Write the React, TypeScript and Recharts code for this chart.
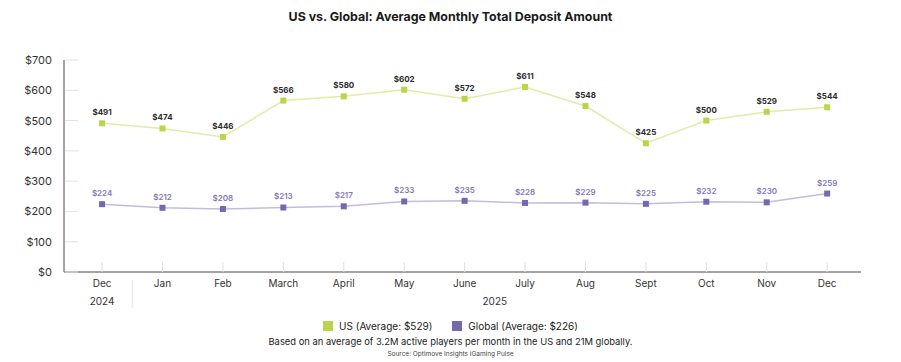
import React from 'react';
import { LineChart, Line, XAxis, YAxis, LabelList } from 'recharts';

const months = ['Dec', 'Jan', 'Feb', 'March', 'April', 'May', 'June', 'July', 'Aug', 'Sept', 'Oct', 'Nov', 'Dec'];
const usValues = [491, 474, 446, 566, 580, 602, 572, 611, 548, 425, 500, 529, 544];
const globalValues = [224, 212, 208, 213, 217, 233, 235, 228, 229, 225, 232, 230, 259];
const yTicks = [0, 100, 200, 300, 400, 500, 600, 700];
// year groups: label sits at the centre of its months, separator between groups
const yearLabels = [
  { label: '2024', at: 0 },
  { label: '2025', at: 6.5 },
];
const yearSeparators = [0.5];

const FONT = 'Inter, "Open Sans", sans-serif';
const US_LINE = '#e2eca6';
const US_MARK = '#bad44c';
const GL_LINE = '#c3bcdf';
const GL_MARK = '#7668ae';

const data = months.map((m, i) => ({ i, month: m, us: usValues[i], global: globalValues[i] }));

const SquareDot = (color: string) => (props: any) => {
  const { cx, cy, index } = props;
  if (cx == null || cy == null) return null;
  return <rect key={`d-${index}`} x={cx - 3} y={cy - 3} width={6} height={6} fill={color} />;
};

const YTick = (props: any) => {
  const { y, payload } = props;
  return (
    <g>
      <line x1={65} x2={78} y1={y} y2={y} stroke="#e2e2e2" strokeWidth={1} />
      <text x={52} y={y} dy={4} textAnchor="end" fontSize={11} fill="#333" fontFamily={FONT}>
        {`$${payload.value}`}
      </text>
    </g>
  );
};

const MonthTick = (props: any) => {
  const { x, y, payload } = props;
  return (
    <g>
      <line x1={x} x2={x} y1={y - 10} y2={y} stroke="#e0e0e0" strokeWidth={1} />
      <text x={x} y={y} dy={15} textAnchor="middle" fontSize={10} fill="#333" fontFamily={FONT}>
        {months[payload.value]}
      </text>
    </g>
  );
};

const YearTick = (props: any) => {
  const { x, y, payload } = props;
  if (yearSeparators.includes(payload.value)) {
    return <line x1={x} x2={x} y1={y - 12} y2={y + 16} stroke="#e6e6e6" strokeWidth={1} />;
  }
  const yl = yearLabels.find((g) => g.at === payload.value);
  return (
    <text x={x} y={y} dy={13} textAnchor="middle" fontSize={10} fill="#333" fontFamily={FONT}>
      {yl ? yl.label : ''}
    </text>
  );
};

export default function App() {
  return (
    <div style={{ position: 'absolute', left: 0, top: 0, width: 901, height: 362, background: '#fff', fontFamily: FONT }}>
      <div style={{ position: 'absolute', top: 9, left: 0, width: 901, textAlign: 'center', fontSize: 12.4, fontWeight: 700, color: '#1a1a1a' }}>
        US vs. Global: Average Monthly Total Deposit Amount
      </div>
      <LineChart width={901} height={362} data={data} margin={{ top: 60, right: 40, left: 0, bottom: 40 }}>
        <YAxis
          domain={[0, 700]}
          ticks={yTicks}
          width={64}
          axisLine={{ stroke: '#8a8282', strokeWidth: 1.5 }}
          tickLine={false}
          tick={<YTick />}
          interval={0}
        />
        <XAxis
          dataKey="i"
          type="number"
          domain={[-0.63, 12.56]}
          allowDataOverflow
          ticks={data.map((d) => d.i)}
          interval={0}
          height={20}
          axisLine={{ stroke: '#8a8282', strokeWidth: 1.5 }}
          tickLine={false}
          tickSize={0}
          tickMargin={0}
          tick={<MonthTick />}
        />
        <XAxis
          xAxisId="year"
          dataKey="i"
          type="number"
          domain={[-0.63, 12.56]}
          allowDataOverflow
          ticks={[...yearLabels.map((g) => g.at), ...yearSeparators]}
          interval={0}
          height={30}
          axisLine={false}
          tickLine={false}
          tickSize={0}
          tickMargin={0}
          tick={<YearTick />}
        />
        <Line
          dataKey="us"
          stroke={US_LINE}
          strokeWidth={1.5}
          dot={SquareDot(US_MARK)}
          activeDot={false}
          isAnimationActive={false}
        >
          <LabelList
            dataKey="us"
            position="top"
            offset={8}
            formatter={(v: any) => `$${v}`}
            style={{ fontSize: 8, fontWeight: 700, fill: '#2a2a2a', fontFamily: FONT }}
          />
        </Line>
        <Line
          dataKey="global"
          stroke={GL_LINE}
          strokeWidth={1.5}
          dot={SquareDot(GL_MARK)}
          activeDot={false}
          isAnimationActive={false}
        >
          <LabelList
            dataKey="global"
            position="top"
            offset={8}
            formatter={(v: any) => `$${v}`}
            style={{ fontSize: 8, fontWeight: 600, fill: '#8577bb', fontFamily: FONT }}
          />
        </Line>
      </LineChart>
      <div style={{ position: 'absolute', top: 320, left: 0, width: 901, display: 'flex', justifyContent: 'center', gap: 20, fontSize: 10, color: '#222' }}>
        <span style={{ display: 'flex', alignItems: 'center' }}>
          <span style={{ width: 10, height: 10, background: US_MARK, marginRight: 6 }} />
          US (Average: $529)
        </span>
        <span style={{ display: 'flex', alignItems: 'center' }}>
          <span style={{ width: 10, height: 10, background: GL_MARK, marginRight: 6 }} />
          Global (Average: $226)
        </span>
      </div>
      <div style={{ position: 'absolute', top: 336, left: 0, width: 901, textAlign: 'center', fontSize: 9.4, color: '#222' }}>
        Based on an average of 3.2M active players per month in the US and 21M globally.
      </div>
      <div style={{ position: 'absolute', top: 350, left: 0, width: 901, textAlign: 'center', fontSize: 6.5, color: '#444' }}>
        Source: Optimove Insights iGaming Pulse
      </div>
    </div>
  );
}
